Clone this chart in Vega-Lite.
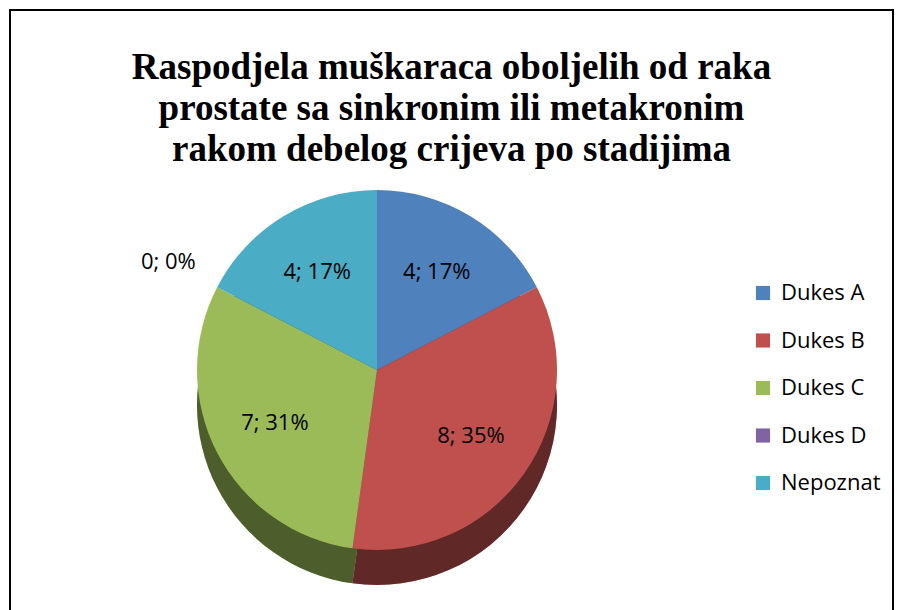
{
  "$schema": "https://vega.github.io/schema/vega-lite/v6.json",
  "autosize": "none",
  "padding": {"left": 10, "top": 10, "right": 4, "bottom": 0},
  "width": 883,
  "height": 756,
  "background": "white",
  "title": {
    "text": ["Raspodjela muškaraca oboljelih od raka", "prostate sa sinkronim ili metakronim", "rakom debelog crijeva po stadijima"],
    "font": "Liberation Serif",
    "fontSize": 37,
    "fontWeight": "bold",
    "color": "black",
    "anchor": "middle",
    "frame": "group",
    "offset": -160,
    "lineHeight": 41
  },
  "data": {
    "values": [
      {"cat": "Dukes A", "value": 4, "label": "4; 17%"},
      {"cat": "Dukes B", "value": 8, "label": "8; 35%"},
      {"cat": "Dukes C", "value": 7, "label": "7; 31%"},
      {"cat": "Dukes D", "value": 0, "label": "0; 0%"},
      {"cat": "Nepoznat", "value": 4, "label": "4; 17%"}
    ]
  },
  "layer": [
    {
      "data": {"values": [{"frame": 1}]},
      "mark": {"type": "rect", "fill": "white", "stroke": "black", "strokeWidth": 2},
      "encoding": {}
    },
    {
      "mark": {"type": "arc", "outerRadius": 180, "xOffset": -74.5, "yOffset": 17},
      "encoding": {
        "theta": {"field": "value", "type": "quantitative", "stack": true},
        "order": {"field": "cat", "type": "nominal"},
        "color": {"field": "cat", "type": "nominal",
          "scale": {"domain": ["Dukes A", "Dukes B", "Dukes C", "Dukes D", "Nepoznat"], "range": ["#4F81BD", "#C0504D", "#9BBB59", "#8064A2", "#4BACC6"]},
          "legend": {"orient": "none", "legendX": 742, "legendY": 272, "title": null, "symbolType": "square", "symbolSize": 200, "symbolStrokeWidth": 0, "labelFontSize": 22, "labelFont": "Open Sans", "labelColor": "black", "rowPadding": 25.5, "labelOffset": 7}}
      }
    },
    {
      "mark": {"type": "arc", "outerRadius": 180, "xOffset": -74.5, "yOffset": 17, "fill": "black", "opacity": 0.5},
      "encoding": {
        "theta": {"field": "value", "type": "quantitative", "stack": true},
        "order": {"field": "cat", "type": "nominal"}
      }
    },
    {
      "mark": {"type": "arc", "outerRadius": 180, "xOffset": -74.5, "yOffset": -18},
      "encoding": {
        "theta": {"field": "value", "type": "quantitative", "stack": true},
        "order": {"field": "cat", "type": "nominal"},
        "color": {"field": "cat", "type": "nominal"}
      }
    },
    {
      "mark": {"type": "text", "radius": 115, "xOffset": -74.5, "yOffset": -18, "font": "Open Sans", "fontSize": 22, "color": "black"},
      "encoding": {
        "theta": {"field": "value", "type": "quantitative", "stack": true},
        "order": {"field": "cat", "type": "nominal"},
        "text": {"condition": {"test": "datum.cat !== 'Dukes D'", "field": "label"}, "value": ""}
      }
    },
    {
      "mark": {"type": "text", "radius": 235, "xOffset": -74.5, "yOffset": -18, "font": "Open Sans", "fontSize": 22, "color": "black"},
      "encoding": {
        "theta": {"field": "value", "type": "quantitative", "stack": true},
        "order": {"field": "cat", "type": "nominal"},
        "text": {"condition": {"test": "datum.cat === 'Dukes D'", "field": "label"}, "value": ""}
      }
    }
  ],
  "config": {"view": {"stroke": "black", "strokeWidth": 2}}
}
